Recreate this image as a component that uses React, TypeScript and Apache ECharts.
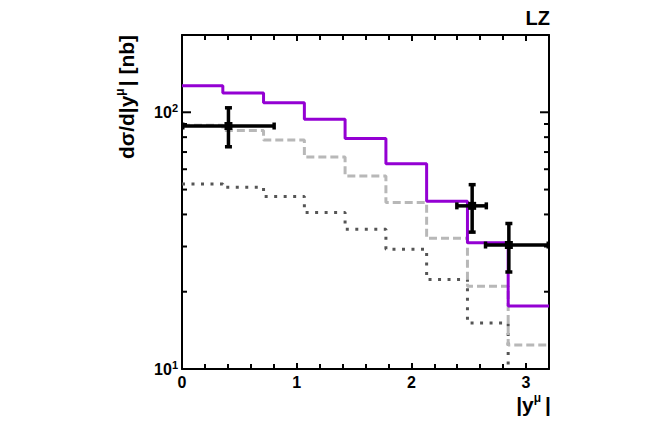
import React, { useEffect, useRef } from "react";
import * as echarts from "echarts";

const binEdges = [0, 0.356, 0.711, 1.067, 1.422, 1.778, 2.133, 2.489, 2.844, 3.2];
const purpleVals = [127, 119, 109, 94, 79, 63, 45, 31, 17.6];
const dashedVals = [89, 85, 78, 67, 56.5, 44.5, 32.3, 21, 12.4];
const dottedVals = [52.5, 51, 47, 40.7, 35, 29.3, 22.3, 15.1, 8];

const pointX = [0.405, 2.53, 2.85];
const pointY = [88.4, 43.2, 30.4];
const xLow = [0, 2.39, 2.64];
const xHigh = [0.81, 2.66, 3.2];
const yLow = [72.9, 33.9, 23.7];
const yHigh = [104.8, 52.6, 37.1];

const yTicks = [10, 20, 30, 40, 50, 60, 70, 80, 90, 100];

const FONT = "'Liberation Sans', Arial, Helvetica, sans-serif";

function stepData(vals: number[]) {
  const d: number[][] = [];
  for (let i = 0; i < vals.length; i++) d.push([binEdges[i], vals[i]]);
  d.push([binEdges[vals.length], vals[vals.length - 1]]);
  return d;
}

export default function App() {
  const ref = useRef<HTMLDivElement>(null);
  useEffect(() => {
    if (!ref.current) return;
    const chart = echarts.init(ref.current, undefined, { renderer: "svg" });
    const axisLine = { show: true, onZero: false, lineStyle: { color: "#000", width: 2 } };
    const option: any = {
      animation: false,
      backgroundColor: "#fff",
      grid: { left: 182, right: 116, top: 35, bottom: 56 },
      xAxis: [
        {
          type: "value",
          min: 0,
          max: 3.2,
          interval: 1,
          position: "bottom",
          axisLine,
          axisTick: { show: true, inside: true, length: 6, lineStyle: { color: "#000", width: 2 } },
          minorTick: { show: true, splitNumber: 5, length: 5, lineStyle: { color: "#000", width: 2 } },
          splitLine: { show: false },
          axisLabel: {
            margin: 5,
            color: "#000",
            fontSize: 16,
            fontWeight: "bold",
            fontFamily: FONT,
            showMaxLabel: false,
          },
        },
        {
          type: "value",
          min: 0,
          max: 3.2,
          interval: 1,
          position: "top",
          axisLine,
          axisTick: { show: true, inside: true, length: 6, lineStyle: { color: "#000", width: 2 } },
          minorTick: { show: true, splitNumber: 5, length: 5, lineStyle: { color: "#000", width: 2 } },
          splitLine: { show: false },
          axisLabel: { show: false },
        },
      ],
      yAxis: [
        {
          type: "log",
          logBase: 10,
          min: 10,
          max: 200,
          position: "left",
          axisLine,
          axisTick: { show: false },
          splitLine: { show: false },
          axisLabel: {
            margin: 4,
            color: "#000",
            formatter: (v: number) => {
              if (Math.abs(v - 10) < 0.01) return "{b|10}{s|1}";
              if (Math.abs(v - 100) < 0.1) return "{b|10}{s|2}";
              return "";
            },
            rich: {
              b: { fontSize: 16, fontWeight: "bold", fontFamily: FONT, color: "#000" },
              s: { fontSize: 11, fontWeight: "bold", fontFamily: FONT, color: "#000", padding: [0, 0, 9, 0] },
            },
          },
        },
        {
          type: "log",
          logBase: 10,
          min: 10,
          max: 200,
          position: "right",
          axisLine,
          axisTick: { show: false },
          splitLine: { show: false },
          axisLabel: { show: false },
        },
      ],
      series: [
        {
          type: "line",
          step: "end",
          data: stepData(dottedVals),
          symbol: "none",
          clip: true,
          lineStyle: { color: "#555555", width: 3, type: [3, 6.5] },
          z: 2,
        },
        {
          type: "line",
          step: "end",
          data: stepData(dashedVals),
          symbol: "none",
          clip: true,
          lineStyle: { color: "#b8b8b8", width: 3, type: [8, 4] },
          z: 3,
        },
        {
          type: "line",
          step: "end",
          data: stepData(purpleVals),
          symbol: "none",
          clip: true,
          lineStyle: { color: "#9400d3", width: 3 },
          z: 4,
        },
        {
          type: "custom",
          z: 5,
          silent: true,
          data: yTicks.map((v) => [0, v]),
          encode: { x: 0, y: 1 },
          renderItem: (params: any, api: any) => {
            const cs = params.coordSys;
            const v = api.value(1);
            const p = api.coord([0, v]);
            const len = v === 10 || v === 100 ? 9 : 5;
            const st = { stroke: "#000", lineWidth: 2 };
            return {
              type: "group",
              children: [
                { type: "line", shape: { x1: cs.x, y1: p[1], x2: cs.x + len, y2: p[1] }, style: st },
                {
                  type: "line",
                  shape: { x1: cs.x + cs.width - len, y1: p[1], x2: cs.x + cs.width, y2: p[1] },
                  style: st,
                },
              ],
            };
          },
        },
        {
          type: "custom",
          z: 10,
          silent: true,
          data: pointX.map((x, i) => [x, pointY[i], xLow[i], xHigh[i], yLow[i], yHigh[i]]),
          encode: { x: [0, 2, 3], y: [1, 4, 5] },
          renderItem: (params: any, api: any) => {
            const x = api.value(0);
            const y = api.value(1);
            const c = api.coord([x, y]);
            const pl = api.coord([api.value(2), y]);
            const ph = api.coord([api.value(3), y]);
            const pyl = api.coord([x, api.value(4)]);
            const pyh = api.coord([x, api.value(5)]);
            const st = { stroke: "#000", lineWidth: 3.5 };
            const f = { fill: "#000" };
            return {
              type: "group",
              children: [
                { type: "line", shape: { x1: pl[0], y1: c[1], x2: ph[0], y2: c[1] }, style: st },
                { type: "line", shape: { x1: c[0], y1: pyl[1], x2: c[0], y2: pyh[1] }, style: st },
                { type: "rect", shape: { x: pl[0] - 1, y: c[1] - 3.5, width: 3.5, height: 7 }, style: f },
                { type: "rect", shape: { x: ph[0] - 2.5, y: c[1] - 3.5, width: 3.5, height: 7 }, style: f },
                { type: "rect", shape: { x: c[0] - 3.5, y: pyl[1] - 2.5, width: 7, height: 3.5 }, style: f },
                { type: "rect", shape: { x: c[0] - 3.5, y: pyh[1] - 1, width: 7, height: 3.5 }, style: f },
                { type: "rect", shape: { x: c[0] - 4, y: c[1] - 4, width: 8, height: 8 }, style: f },
              ],
            };
          },
        },
      ],
      graphic: [
        {
          type: "text",
          x: 126,
          y: 97,
          rotation: Math.PI / 2,
          style: {
            text: "{a|dσ/d|y}{s|μ}{a|| [nb]}",
            textAlign: "center",
            textVerticalAlign: "middle",
            rich: {
              a: { fontSize: 21, fontWeight: "bold", fontFamily: FONT, fill: "#000" },
              s: { fontSize: 12, fontWeight: "bold", fontFamily: FONT, fill: "#000", padding: [0, 2, 12, 0] },
            },
          },
        },
        {
          type: "text",
          x: 550,
          y: 18,
          style: {
            text: "LZ",
            textAlign: "right",
            textVerticalAlign: "middle",
            fontSize: 20,
            fontWeight: "bold",
            fontFamily: FONT,
            fill: "#000",
          },
        },
        {
          type: "text",
          x: 551,
          y: 404,
          style: {
            text: "{a||y}{s|μ}{a||}",
            textAlign: "right",
            textVerticalAlign: "middle",
            rich: {
              a: { fontSize: 21, fontWeight: "bold", fontFamily: FONT, fill: "#000" },
              s: { fontSize: 12, fontWeight: "bold", fontFamily: FONT, fill: "#000", padding: [0, 4, 12, 0] },
            },
          },
        },
      ],
    };
    chart.setOption(option);
    return () => chart.dispose();
  }, []);
  return (
    <div
      ref={ref}
      style={{ position: "absolute", left: 0, top: 0, width: 665, height: 425, background: "#fff" }}
    />
  );
}
